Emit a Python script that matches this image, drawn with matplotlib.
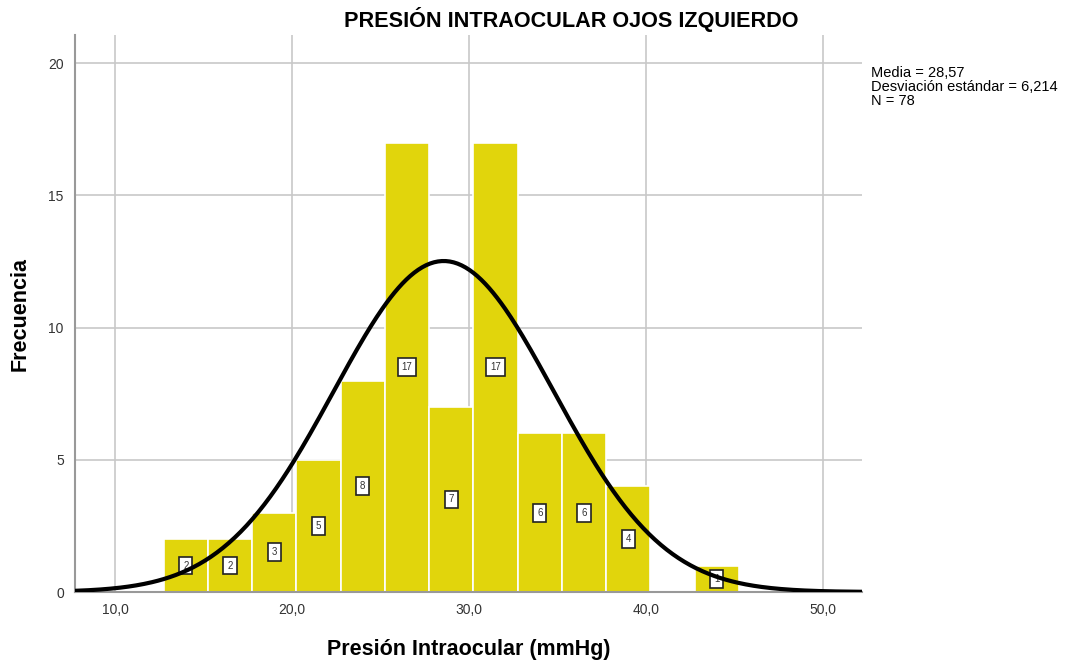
import numpy as np
import matplotlib.pyplot as plt

plt.rcParams['font.family'] = ['Liberation Sans', 'DejaVu Sans']

# Histogram data (bins of 2.5 mmHg)
bin_edges = [12.75, 15.25, 17.75, 20.25, 22.75, 25.25, 27.75, 30.25,
             32.75, 35.25, 37.75, 40.25, 42.75, 45.25]
counts = [2, 2, 3, 5, 8, 17, 7, 17, 6, 6, 4, 0, 1]

media = 28.57
desv = 6.214
n = 78

x_ticks = [10, 20, 30, 40, 50]
y_ticks = [0, 5, 10, 15, 20]

fig = plt.figure(figsize=(10.65, 6.64), dpi=100)
ax = fig.add_axes([0.0704, 0.1084, 0.7390, 0.8386])

left = np.array(bin_edges[:-1])
widths = np.diff(bin_edges)
centers = left + widths / 2
ax.bar(left, counts, width=widths, align='edge', color='#e1d50c',
       edgecolor='white', linewidth=1.2, zorder=2)

# count labels
for c, h in zip(centers, counts):
    if h > 0:
        ax.text(c, h / 2, str(h), ha='center', va='center', fontsize=7,
                color='#333333', zorder=3,
                bbox=dict(boxstyle='square,pad=0.4', fc='white', ec='#222222', lw=1.2))

# normal curve
xs = np.linspace(7.74, 52.2, 400)
bw = 2.5
ys = n * bw * np.exp(-0.5 * ((xs - media) / desv) ** 2) / (desv * np.sqrt(2 * np.pi))
ax.plot(xs, ys, color='black', lw=3, zorder=4)

ax.set_xlim(7.74, 52.2)
ax.set_ylim(0, 21.06)
ax.set_xticks(x_ticks)
ax.set_xticklabels([f'{t:.1f}'.replace('.', ',') for t in x_ticks])
ax.set_yticks(y_ticks)
ax.tick_params(length=0, labelsize=10, colors='#333333', pad=8)
ax.grid(True, color='#c8c8c8', lw=1.2, zorder=0)
ax.set_axisbelow(True)
for s in ['top', 'right']:
    ax.spines[s].set_visible(False)
for s in ['left', 'bottom']:
    ax.spines[s].set_color('#999999')
    ax.spines[s].set_linewidth(1.5)

ax.set_xlabel('Presión Intraocular (mmHg)', fontsize=15.5, fontweight='bold')
ax.xaxis.set_label_coords(0.5, -0.084)
ax.set_ylabel('Frecuencia', fontsize=15.5, fontweight='bold')
ax.yaxis.set_label_coords(-0.056, 0.5)
fig.text(0.536, 0.97, 'PRESIÓN INTRAOCULAR OJOS IZQUIERDO', ha='center', va='center',
         fontsize=15.6, fontweight='bold')
fig.text(0.818, 0.900, f'Media = {media:.2f}\nDesviación estándar = {desv:.3f}\nN = {n}'.replace('.', ','),
         ha='left', va='top', fontsize=10.5, linespacing=1.0)

fig.savefig('out.png', dpi=100)
